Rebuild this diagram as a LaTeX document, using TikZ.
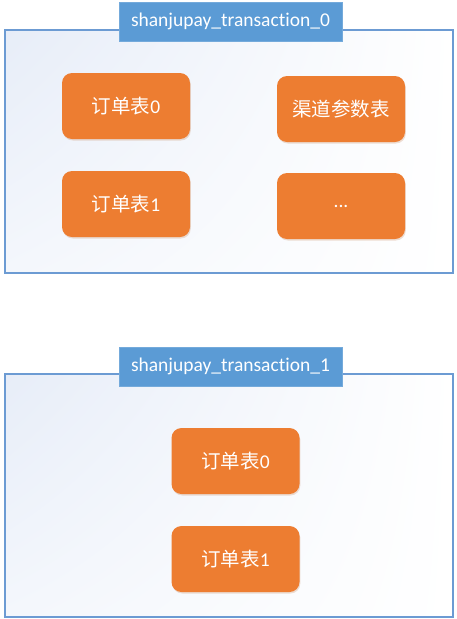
\documentclass[tikz,border=0pt]{standalone}
\usepackage{fontspec}
\setmainfont{Carlito}[Ligatures={NoCommon,NoContextual}]
\newfontfamily\cjk{Noto Sans CJK SC}
\usetikzlibrary{shadows,shadings}
\definecolor{tblue}{HTML}{5B9BD5}
\definecolor{bordblue}{HTML}{6C9BD3}
\definecolor{torange}{HTML}{ED7D31}
\definecolor{gtop}{HTML}{E7EDF8}
\definecolor{gmid}{HTML}{F4F7FC}
\newcommand{\cn}[1]{{\cjk #1}}
\begin{document}
\begin{tikzpicture}[x=1pt,y=-1pt,
  container/.style={draw=bordblue,line width=1.3pt},
  titlebox/.style={fill=tblue,draw=tblue!85!white,line width=0.6pt,text=white,
    minimum width=223pt,minimum height=39pt,inner sep=0pt,
    font=\fontsize{19.5}{22}\selectfont,
    drop shadow={shadow xshift=0.8pt,shadow yshift=-1.2pt,opacity=0.25,fill=gray}},
  tablebox/.style={fill=torange,rounded corners=10pt,text=white,
    minimum width=128pt,minimum height=66pt,inner sep=0pt,
    font=\fontsize{19.5}{22}\selectfont,
    drop shadow={shadow xshift=0.8pt,shadow yshift=-1.5pt,opacity=0.25,fill=torange!60!gray}}]
\useasboundingbox (0,0) rectangle (456,619);
% top container
\shade[upper left=gtop,upper right=white,lower left=gmid,lower right=white] (5,30) rectangle (453,273);
\draw[container] (5,30) rectangle (453,273);
\node[titlebox] (t0) at (230.5,21.5) {shanjupay\_transaction\_0};
\node[tablebox] (a0) at (126,106) {\cn{订单表}0};
\node[tablebox] (a1) at (341,109) {\cn{渠道参数表}};
\node[tablebox] (a2) at (126,204) {\cn{订单表}1};
\node[tablebox] (a3) at (341,206) {...};
% bottom container
\shade[upper left=gtop,upper right=white,lower left=gmid,lower right=white] (5,374) rectangle (453,617);
\draw[container] (5,374) rectangle (453,617);
\node[titlebox] (t1) at (230.5,366.5) {shanjupay\_transaction\_1};
\node[tablebox] (b0) at (235.5,461) {\cn{订单表}0};
\node[tablebox] (b1) at (235.5,559) {\cn{订单表}1};
\end{tikzpicture}
\end{document}
